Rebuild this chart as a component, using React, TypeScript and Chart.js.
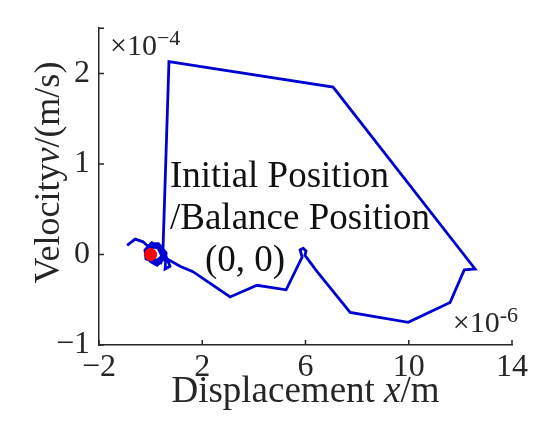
import React, { useEffect, useRef } from 'react';
import { Chart, registerables } from 'chart.js';

Chart.register(...registerables);

// Phase trajectory (x in 1e-6 m, v in 1e-4 m/s)
const displacement = [
  -0.91, -0.6, -0.29, -0.14, 0.29, 0.44, 0.17, -0.18, -0.22, 0.05, 0.36, 0.56,
  0.3, -0.05, -0.12, 0.2, 0.5, 0.4, 0.05, -0.1, 0.15, 0.45, 0.52, 0.25, 0.0,
  -0.2, 0.0, 0.3, 0.6, 0.56, 0.75, 0.64, 0.48, 0.71, 7.07,
  12.57, 12.15, 11.6, 9.98, 7.73, 6.45, 5.98, 6.02, 5.91, 5.79, 5.87, 5.25, 4.12,
  3.08, 1.64, 1.14, 0.64,
];
const velocity = [
  0.1, 0.17, 0.14, 0.1, 0.07, -0.02, -0.08, -0.05, 0.05, 0.13, 0.08, 0.0, -0.1,
  -0.06, 0.06, 0.11, 0.03, -0.09, -0.04, 0.02, 0.09, 0.05, -0.05, -0.12, -0.08,
  0.0, 0.12, 0.12, 0.02, -0.16, -0.13, -0.05, 0.06, 2.13, 1.85,
  -0.16, -0.17, -0.53, -0.75, -0.64, -0.19, -0.01, 0.04, 0.07, 0.05, -0.03,
  -0.39, -0.34, -0.47, -0.19, -0.13, -0.05,
];
const balancePoint = [{ x: 0, y: 0 }];
const xTicks = [-2, 2, 6, 10, 14];
const yTicks = [-1, 0, 1, 2];
const xRange = [-2, 14];
const yRange = [-1, 2.5];
const annotationLines = ['Initial Position', '/Balance Position', '(0, 0)'];
const xTitleParts = [
  { t: 'Displacement ', i: false },
  { t: 'x', i: true },
  { t: '/m', i: false },
];
const yTitleParts = [
  { t: 'Velocity', i: false },
  { t: 'v', i: true },
  { t: '/(m/s)', i: false },
];

const SERIF = '"Liberation Serif", "Times New Roman", serif';
const AXIS = '#262626';

const fmt = (v: number) => (v < 0 ? '\u2212' + Math.abs(v) : String(v));

function drawParts(ctx: CanvasRenderingContext2D, parts: { t: string; i: boolean }[], size: number, cx: number, y: number) {
  let total = 0;
  const widths = parts.map((p) => {
    ctx.font = `${p.i ? 'italic ' : ''}${size}px ${SERIF}`;
    const w = ctx.measureText(p.t).width;
    total += w;
    return w;
  });
  let x = cx - total / 2;
  parts.forEach((p, k) => {
    ctx.font = `${p.i ? 'italic ' : ''}${size}px ${SERIF}`;
    ctx.fillText(p.t, x, y);
    x += widths[k];
  });
}

const decorPlugin = {
  id: 'decor',
  afterDraw(chart: any) {
    const { ctx, chartArea, scales } = chart;
    const xs = scales.x;
    const ys = scales.y;
    ctx.save();
    // inward tick marks
    ctx.strokeStyle = AXIS;
    ctx.lineWidth = 1.5;
    ctx.beginPath();
    xTicks.forEach((v) => {
      const px = xs.getPixelForValue(v);
      ctx.moveTo(px, chartArea.bottom);
      ctx.lineTo(px, chartArea.bottom - 5);
    });
    yTicks.forEach((v) => {
      const py = ys.getPixelForValue(v);
      ctx.moveTo(chartArea.left, py);
      ctx.lineTo(chartArea.left + 5, py);
    });
    ctx.moveTo(chartArea.left, chartArea.top);
    ctx.lineTo(chartArea.left + 5, chartArea.top);
    ctx.stroke();

    ctx.fillStyle = AXIS;
    ctx.textAlign = 'left';
    ctx.textBaseline = 'alphabetic';
    // x title
    drawParts(ctx, xTitleParts, 37, (chartArea.left + chartArea.right) / 2, chartArea.bottom + 57);
    // y title
    ctx.save();
    ctx.translate(59, (chartArea.top + chartArea.bottom) / 2 - 14);
    ctx.rotate(-Math.PI / 2);
    drawParts(ctx, yTitleParts, 36, 0, 0);
    ctx.restore();

    // exponent labels
    ctx.font = `30px ${SERIF}`;
    const e4x = chartArea.left + 11;
    ctx.fillText('\u00d710', e4x, chartArea.top + 27);
    const w10 = ctx.measureText('\u00d710').width;
    ctx.font = `22px ${SERIF}`;
    ctx.fillText('\u22124', e4x + w10, chartArea.top + 17);

    ctx.font = `22px ${SERIF}`;
    const wSup = ctx.measureText('-6').width;
    const supX = chartArea.right + 6 - wSup;
    ctx.fillText('-6', supX, chartArea.bottom - 23);
    ctx.font = `30px ${SERIF}`;
    ctx.fillText('\u00d710', supX - w10, chartArea.bottom - 13);

    // annotation
    ctx.fillStyle = '#111111';
    ctx.font = `37px ${SERIF}`;
    const ax = xs.getPixelForValue(0.75);
    const ay = ys.getPixelForValue(0.75);
    ctx.fillText(annotationLines[0], ax, ay);
    ctx.fillText(annotationLines[1], ax, ay + 42);
    ctx.fillText(annotationLines[2], ax + 35, ay + 84);
    ctx.restore();
  },
};

export default function App() {
  const ref = useRef<HTMLCanvasElement | null>(null);
  useEffect(() => {
    if (!ref.current) return;
    const chart = new Chart(ref.current, {
      type: 'scatter',
      data: {
        datasets: [
          {
            data: balancePoint,
            pointRadius: 6.5,
            pointBackgroundColor: '#ff0000',
            pointBorderWidth: 0,
            showLine: false,
          },
          {
            data: displacement.map((x, k) => ({ x, y: velocity[k] })),
            showLine: true,
            borderColor: '#0000d0',
            borderWidth: 2.8,
            pointRadius: 0,
            tension: 0,
          },
        ],
      },
      options: {
        responsive: false,
        animation: false,
        layout: { padding: { top: 12, right: 38, left: 0, bottom: 0 } },
        plugins: { legend: { display: false }, tooltip: { enabled: false } },
        scales: {
          x: {
            type: 'linear',
            min: xRange[0],
            max: xRange[1],
            afterBuildTicks: (s: any) => {
              s.ticks = xTicks.map((value) => ({ value }));
            },
            afterFit: (s: any) => {
              s.height = 83;
            },
            grid: { display: false, drawTicks: false },
            border: { display: true, color: AXIS, width: 1.5 },
            ticks: {
              padding: 3,
              color: AXIS,
              font: { family: SERIF, size: 32 },
              callback: (v: any) => fmt(Number(v)),
              autoSkip: false,
              maxRotation: 0,
            },
          },
          y: {
            type: 'linear',
            min: yRange[0],
            max: yRange[1],
            afterBuildTicks: (s: any) => {
              s.ticks = yTicks.map((value) => ({ value }));
            },
            afterFit: (s: any) => {
              s.width = 99;
            },
            grid: { display: false, drawTicks: false },
            border: { display: true, color: AXIS, width: 1.5 },
            ticks: {
              padding: 9,
              color: AXIS,
              font: { family: SERIF, size: 32 },
              callback: (v: any) => fmt(Number(v)),
              autoSkip: false,
            },
          },
        },
      },
      plugins: [decorPlugin],
    });
    return () => chart.destroy();
  }, []);
  return (
    <div style={{ position: 'fixed', left: 0, top: 0, width: 550, height: 428, background: '#fff' }}>
      <canvas ref={ref} width={550} height={428} />
    </div>
  );
}
